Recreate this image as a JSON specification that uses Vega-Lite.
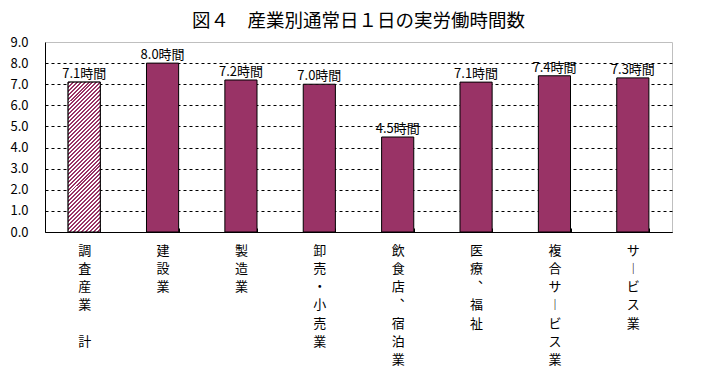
{
  "$schema": "https://vega.github.io/schema/vega-lite/v6.json",
  "width": 627,
  "height": 190,
  "autosize": "none",
  "padding": {"left": 45, "top": 42, "right": 51, "bottom": 151},
  "background": "white",
  "title": {
    "text": "図４　産業別通常日１日の実労働時間数",
    "font": "Noto Sans CJK JP",
    "fontSize": 18.5,
    "fontWeight": "normal",
    "color": "black",
    "anchor": "middle",
    "frame": "group",
    "baseline": "alphabetic",
    "offset": 15,
    "dy": 24
  },
  "data": {
    "values": [
      {"industry": "調査産業　計", "hours": 7.1, "label": "7.1時間"},
      {"industry": "建設業", "hours": 8.0, "label": "8.0時間"},
      {"industry": "製造業", "hours": 7.2, "label": "7.2時間"},
      {"industry": "卸売・小売業", "hours": 7.0, "label": "7.0時間"},
      {"industry": "飲食店、宿泊業", "hours": 4.5, "label": "4.5時間"},
      {"industry": "医療、福祉", "hours": 7.1, "label": "7.1時間"},
      {"industry": "複合サービス業", "hours": 7.4, "label": "7.4時間"},
      {"industry": "サービス業", "hours": 7.3, "label": "7.3時間"}
    ]
  },
  "encoding": {
    "x": {
      "field": "industry",
      "type": "nominal",
      "sort": null,
      "scale": {"paddingInner": 0.59, "paddingOuter": 0.295},
      "axis": {
        "title": null,
        "labelAngle": 0,
        "labelFont": "Noto Sans CJK JP",
        "labelFontSize": 13,
        "labelColor": "black",
        "labelLineHeight": 18.3,
        "labelBaseline": "top",
        "labelPadding": 16,
        "labelExpr": "split(replace(replace(replace(datum.label, regexp('ー', 'g'), '︱'), regexp('、', 'g'), '︑'), regexp('　', 'g'), '\u2800'), '')",
        "domainColor": "black",
        "tickColor": "black",
        "tickBand": "extent",
        "tickSize": -4,
        "grid": false
      }
    },
    "y": {
      "field": "hours",
      "type": "quantitative",
      "scale": {"domain": [0, 9], "nice": false},
      "axis": {
        "title": null,
        "values": [0, 1, 2, 3, 4, 5, 6, 7, 8, 9],
        "format": ".1f",
        "labelFont": "Noto Sans CJK JP",
        "labelFontSize": 13,
        "labelColor": "black",
        "labelPadding": 17,
        "ticks": false,
        "domainColor": "black",
        "grid": true,
        "gridColor": "black",
        "gridDash": [3, 3],
        "gridOpacity": {"condition": {"test": "datum.value >= 9", "value": 0}, "value": 1}
      }
    }
  },
  "layer": [
    {
      "mark": {"type": "bar", "fill": "#993366", "stroke": "black", "strokeWidth": 1}
    },
    {
      "transform": [{"filter": "datum.industry === '調査産業　計'"}],
      "mark": {
        "type": "bar",
        "stroke": "black",
        "strokeWidth": 1,
        "fill": {
          "gradient": "linear",
          "x1": 0, "y1": 0, "x2": 0.2486, "y2": 1.1609,
          "stops": [
            {"offset":0,"color":"#936"},
            {"offset":0.0109,"color":"#936"},{"offset":0.0109,"color":"#fff"},
            {"offset":0.0217,"color":"#fff"},{"offset":0.0217,"color":"#936"},
            {"offset":0.0326,"color":"#936"},{"offset":0.0326,"color":"#fff"},
            {"offset":0.0435,"color":"#fff"},{"offset":0.0435,"color":"#936"},
            {"offset":0.0543,"color":"#936"},{"offset":0.0543,"color":"#fff"},
            {"offset":0.0652,"color":"#fff"},{"offset":0.0652,"color":"#936"},
            {"offset":0.0761,"color":"#936"},{"offset":0.0761,"color":"#fff"},
            {"offset":0.087,"color":"#fff"},{"offset":0.087,"color":"#936"},
            {"offset":0.0978,"color":"#936"},{"offset":0.0978,"color":"#fff"},
            {"offset":0.1087,"color":"#fff"},{"offset":0.1087,"color":"#936"},
            {"offset":0.1196,"color":"#936"},{"offset":0.1196,"color":"#fff"},
            {"offset":0.1304,"color":"#fff"},{"offset":0.1304,"color":"#936"},
            {"offset":0.1413,"color":"#936"},{"offset":0.1413,"color":"#fff"},
            {"offset":0.1522,"color":"#fff"},{"offset":0.1522,"color":"#936"},
            {"offset":0.163,"color":"#936"},{"offset":0.163,"color":"#fff"},
            {"offset":0.1739,"color":"#fff"},{"offset":0.1739,"color":"#936"},
            {"offset":0.1848,"color":"#936"},{"offset":0.1848,"color":"#fff"},
            {"offset":0.1957,"color":"#fff"},{"offset":0.1957,"color":"#936"},
            {"offset":0.2065,"color":"#936"},{"offset":0.2065,"color":"#fff"},
            {"offset":0.2174,"color":"#fff"},{"offset":0.2174,"color":"#936"},
            {"offset":0.2283,"color":"#936"},{"offset":0.2283,"color":"#fff"},
            {"offset":0.2391,"color":"#fff"},{"offset":0.2391,"color":"#936"},
            {"offset":0.25,"color":"#936"},{"offset":0.25,"color":"#fff"},
            {"offset":0.2609,"color":"#fff"},{"offset":0.2609,"color":"#936"},
            {"offset":0.2717,"color":"#936"},{"offset":0.2717,"color":"#fff"},
            {"offset":0.2826,"color":"#fff"},{"offset":0.2826,"color":"#936"},
            {"offset":0.2935,"color":"#936"},{"offset":0.2935,"color":"#fff"},
            {"offset":0.3043,"color":"#fff"},{"offset":0.3043,"color":"#936"},
            {"offset":0.3152,"color":"#936"},{"offset":0.3152,"color":"#fff"},
            {"offset":0.3261,"color":"#fff"},{"offset":0.3261,"color":"#936"},
            {"offset":0.337,"color":"#936"},{"offset":0.337,"color":"#fff"},
            {"offset":0.3478,"color":"#fff"},{"offset":0.3478,"color":"#936"},
            {"offset":0.3587,"color":"#936"},{"offset":0.3587,"color":"#fff"},
            {"offset":0.3696,"color":"#fff"},{"offset":0.3696,"color":"#936"},
            {"offset":0.3804,"color":"#936"},{"offset":0.3804,"color":"#fff"},
            {"offset":0.3913,"color":"#fff"},{"offset":0.3913,"color":"#936"},
            {"offset":0.4022,"color":"#936"},{"offset":0.4022,"color":"#fff"},
            {"offset":0.413,"color":"#fff"},{"offset":0.413,"color":"#936"},
            {"offset":0.4239,"color":"#936"},{"offset":0.4239,"color":"#fff"},
            {"offset":0.4348,"color":"#fff"},{"offset":0.4348,"color":"#936"},
            {"offset":0.4457,"color":"#936"},{"offset":0.4457,"color":"#fff"},
            {"offset":0.4565,"color":"#fff"},{"offset":0.4565,"color":"#936"},
            {"offset":0.4674,"color":"#936"},{"offset":0.4674,"color":"#fff"},
            {"offset":0.4783,"color":"#fff"},{"offset":0.4783,"color":"#936"},
            {"offset":0.4891,"color":"#936"},{"offset":0.4891,"color":"#fff"},
            {"offset":0.5,"color":"#fff"},{"offset":0.5,"color":"#936"},
            {"offset":0.5109,"color":"#936"},{"offset":0.5109,"color":"#fff"},
            {"offset":0.5217,"color":"#fff"},{"offset":0.5217,"color":"#936"},
            {"offset":0.5326,"color":"#936"},{"offset":0.5326,"color":"#fff"},
            {"offset":0.5435,"color":"#fff"},{"offset":0.5435,"color":"#936"},
            {"offset":0.5543,"color":"#936"},{"offset":0.5543,"color":"#fff"},
            {"offset":0.5652,"color":"#fff"},{"offset":0.5652,"color":"#936"},
            {"offset":0.5761,"color":"#936"},{"offset":0.5761,"color":"#fff"},
            {"offset":0.587,"color":"#fff"},{"offset":0.587,"color":"#936"},
            {"offset":0.5978,"color":"#936"},{"offset":0.5978,"color":"#fff"},
            {"offset":0.6087,"color":"#fff"},{"offset":0.6087,"color":"#936"},
            {"offset":0.6196,"color":"#936"},{"offset":0.6196,"color":"#fff"},
            {"offset":0.6304,"color":"#fff"},{"offset":0.6304,"color":"#936"},
            {"offset":0.6413,"color":"#936"},{"offset":0.6413,"color":"#fff"},
            {"offset":0.6522,"color":"#fff"},{"offset":0.6522,"color":"#936"},
            {"offset":0.663,"color":"#936"},{"offset":0.663,"color":"#fff"},
            {"offset":0.6739,"color":"#fff"},{"offset":0.6739,"color":"#936"},
            {"offset":0.6848,"color":"#936"},{"offset":0.6848,"color":"#fff"},
            {"offset":0.6957,"color":"#fff"},{"offset":0.6957,"color":"#936"},
            {"offset":0.7065,"color":"#936"},{"offset":0.7065,"color":"#fff"},
            {"offset":0.7174,"color":"#fff"},{"offset":0.7174,"color":"#936"},
            {"offset":0.7283,"color":"#936"},{"offset":0.7283,"color":"#fff"},
            {"offset":0.7391,"color":"#fff"},{"offset":0.7391,"color":"#936"},
            {"offset":0.75,"color":"#936"},{"offset":0.75,"color":"#fff"},
            {"offset":0.7609,"color":"#fff"},{"offset":0.7609,"color":"#936"},
            {"offset":0.7717,"color":"#936"},{"offset":0.7717,"color":"#fff"},
            {"offset":0.7826,"color":"#fff"},{"offset":0.7826,"color":"#936"},
            {"offset":0.7935,"color":"#936"},{"offset":0.7935,"color":"#fff"},
            {"offset":0.8043,"color":"#fff"},{"offset":0.8043,"color":"#936"},
            {"offset":0.8152,"color":"#936"},{"offset":0.8152,"color":"#fff"},
            {"offset":0.8261,"color":"#fff"},{"offset":0.8261,"color":"#936"},
            {"offset":0.837,"color":"#936"},{"offset":0.837,"color":"#fff"},
            {"offset":0.8478,"color":"#fff"},{"offset":0.8478,"color":"#936"},
            {"offset":0.8587,"color":"#936"},{"offset":0.8587,"color":"#fff"},
            {"offset":0.8696,"color":"#fff"},{"offset":0.8696,"color":"#936"},
            {"offset":0.8804,"color":"#936"},{"offset":0.8804,"color":"#fff"},
            {"offset":0.8913,"color":"#fff"},{"offset":0.8913,"color":"#936"},
            {"offset":0.9022,"color":"#936"},{"offset":0.9022,"color":"#fff"},
            {"offset":0.913,"color":"#fff"},{"offset":0.913,"color":"#936"},
            {"offset":0.9239,"color":"#936"},{"offset":0.9239,"color":"#fff"},
            {"offset":0.9348,"color":"#fff"},{"offset":0.9348,"color":"#936"},
            {"offset":0.9457,"color":"#936"},{"offset":0.9457,"color":"#fff"},
            {"offset":0.9565,"color":"#fff"},{"offset":0.9565,"color":"#936"},
            {"offset":0.9674,"color":"#936"},{"offset":0.9674,"color":"#fff"},
            {"offset":0.9783,"color":"#fff"},{"offset":0.9783,"color":"#936"},
            {"offset":0.9891,"color":"#936"},{"offset":0.9891,"color":"#fff"},
            {"offset":1,"color":"#fff"}
          ]
        }
      }
    },
    {
      "mark": {
        "type": "text",
        "font": "Noto Sans CJK JP",
        "fontSize": 13,
        "color": "black",
        "baseline": "bottom",
        "align": "center",
        "dy": -1
      },
      "encoding": {"text": {"field": "label"}}
    }
  ],
  "config": {
    "view": {"stroke": "#bfbfbf", "strokeWidth": 1}
  }
}
